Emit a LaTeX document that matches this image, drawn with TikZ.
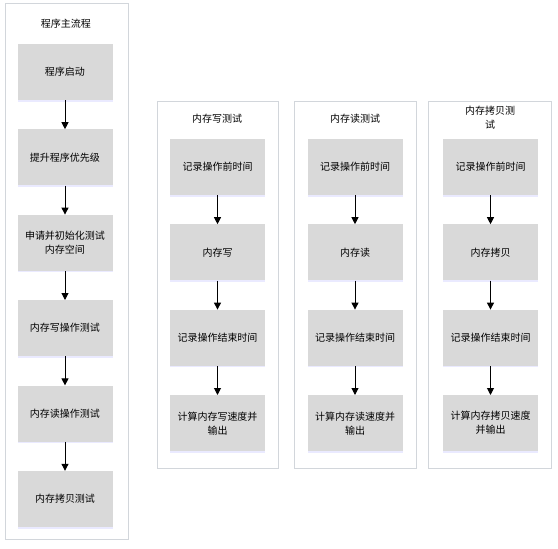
\documentclass[tikz,border=0pt]{standalone}
\usepackage{fontspec}
\setmainfont{Noto Sans CJK SC}
\usetikzlibrary{positioning,arrows.meta,shadows}
\definecolor{boxgray}{HTML}{D9D9D9}
\definecolor{lanegray}{HTML}{D2D6DB}
\begin{document}
\begin{tikzpicture}
  [x=1pt,y=-1pt,
  every node/.style={font=\fontsize{10}{14}\selectfont,align=center},
  blk/.style={fill=boxgray,minimum width=95pt,minimum height=56pt,inner sep=2pt,
    drop shadow={shadow xshift=0pt,shadow yshift=-1.5pt,opacity=.4,fill=blue!20}},
  lane/.style={draw=lanegray,line width=1pt,fill=white},
  arr/.style={-{Triangle[length=7pt,width=7pt]},line width=1pt},
  node distance=29pt]
  \useasboundingbox (0,0) rectangle (558,549);
  % lanes
  \draw[lane] (5,3) rectangle (128,539);
  \draw[lane] (157,101) rectangle (278,468);
  \draw[lane] (294,101) rectangle (416,468);
  \draw[lane] (428,101) rectangle (551,468);
  \node (t0) at (66,24) {程序主流程};
  \node (t1) at (217,119) {内存写测试};
  \node (t2) at (355,119) {内存读测试};
  \node (t3) at (490,118) {内存拷贝测\\试};

  % main flow
  \node[blk] (m1) at (65,72) {程序启动};
  \node[blk,below=of m1] (m2) {提升程序优先级};
  \node[blk,below=of m2] (m3) {申请并初始化测试\\内存空间};
  \node[blk,below=of m3] (m4) {内存写操作测试};
  \node[blk,below=of m4] (m5) {内存读操作测试};
  \node[blk,below=of m5] (m6) {内存拷贝测试};

  % write test
  \node[blk] (w1) at (217.5,167) {记录操作前时间};
  \node[blk,below=of w1] (w2) {内存写};
  \node[blk,below=of w2] (w3) {记录操作结束时间};
  \node[blk,below=of w3] (w4) {计算内存写速度并\\输出};

  % read test
  \node[blk] (r1) at (355,167) {记录操作前时间};
  \node[blk,below=of r1] (r2) {内存读};
  \node[blk,below=of r2] (r3) {记录操作结束时间};
  \node[blk,below=of r3] (r4) {计算内存读速度并\\输出};

  % copy test
  \node[blk] (c1) at (490.5,167) {记录操作前时间};
  \node[blk,below=of c1] (c2) {内存拷贝};
  \node[blk,below=of c2] (c3) {记录操作结束时间};
  \node[blk,below=of c3] (c4) {计算内存拷贝速度\\并输出};

  \foreach \a/\b in {m1/m2,m2/m3,m3/m4,m4/m5,m5/m6,
    w1/w2,w2/w3,w3/w4,r1/r2,r2/r3,r3/r4,c1/c2,c2/c3,c3/c4}
    \draw[arr] (\a) -- (\b);
\end{tikzpicture}
\end{document}
